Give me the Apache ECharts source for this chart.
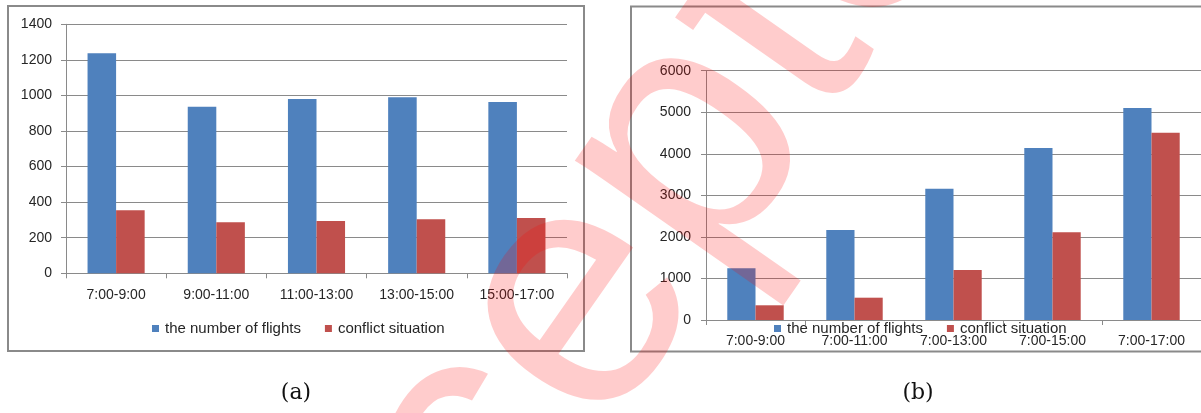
<!DOCTYPE html>
<html>
<head>
<meta charset="utf-8">
<script src="https://cdn.jsdelivr.net/npm/echarts@6/dist/echarts.min.js"></script>
<style>
html,body{margin:0;padding:0;background:#fff;}
#chart{width:1201px;height:413px;}
</style>
</head>
<body>
<div id="chart"></div>
<script>
// ---- data ----
const categoriesA = ['7:00-9:00', '9:00-11:00', '11:00-13:00', '13:00-15:00', '15:00-17:00'];
const flightsA = [1237, 937, 980, 990, 963];
const conflictsA = [354, 287, 294, 304, 311];
const yTicksA = [0, 200, 400, 600, 800, 1000, 1200, 1400];

const categoriesB = ['7:00-9:00', '7:00-11:00', '7:00-13:00', '7:00-15:00', '7:00-17:00'];
const flightsB = [1244, 2166, 3160, 4140, 5102];
const conflictsB = [354, 537, 1203, 2110, 4508];
const yTicksB = [0, 1000, 2000, 3000, 4000, 5000, 6000];

const seriesNames = ['the number of flights', 'conflict situation'];
const captions = ['(a)', '(b)'];
const watermark = 'Accepted';

// ---- styling ----
const BLUE = '#4F81BD', RED = '#C0504D';
const GRID_C = '#8a8a8a', TEXT_C = '#262626';
const FONT = '"Liberation Sans", Arial, sans-serif';

function xAxis(idx, cats, margin) {
  return {
    type: 'category', gridIndex: idx, data: cats,
    axisLine: {show: true, lineStyle: {color: GRID_C, width: 1}},
    axisTick: {show: true, length: 5, lineStyle: {color: GRID_C}},
    axisLabel: {color: TEXT_C, fontSize: 14, fontFamily: FONT, margin: margin, interval: 0},
    splitLine: {show: false}
  };
}
function yAxis(idx, ticks, margin) {
  return {
    type: 'value', gridIndex: idx,
    min: ticks[0], max: ticks[ticks.length - 1], interval: ticks[1] - ticks[0],
    axisLine: {show: true, lineStyle: {color: GRID_C, width: 1}},
    axisTick: {show: true, length: 5, lineStyle: {color: GRID_C}},
    axisLabel: {color: TEXT_C, fontSize: 14, fontFamily: FONT, margin: margin,
                formatter: function (v) { return String(v); }},
    splitLine: {show: true, lineStyle: {color: GRID_C, width: 1}}
  };
}
function bar(name, data, idx, color) {
  return {
    name: name, type: 'bar', xAxisIndex: idx, yAxisIndex: idx, data: data,
    barGap: '0%', barCategoryGap: '43%',
    itemStyle: {color: color}, silent: true, animation: false
  };
}
function legend(left, top) {
  return {
    left: left, top: top, orient: 'horizontal', padding: 0,
    itemWidth: 7, itemHeight: 7, itemGap: 24, icon: 'rect',
    data: seriesNames, selectedMode: false,
    textStyle: {color: TEXT_C, fontSize: 15, fontFamily: FONT, padding: [0, 0, 0, 1]}
  };
}

const chart = echarts.init(document.getElementById('chart'), null, {renderer: 'canvas'});
chart.setOption({
  animation: false,
  backgroundColor: '#fff',
  grid: [
    {left: 66, right: 1201 - 567, top: 24.3, bottom: 413 - 273.3},
    {left: 706, right: -5.5, top: 70.7, bottom: 413 - 320}
  ],
  xAxis: [xAxis(0, categoriesA, 15), xAxis(1, categoriesB, 14)],
  yAxis: [yAxis(0, yTicksA, 14), yAxis(1, yTicksB, 15)],
  legend: [legend(152, 321), legend(774, 321)],
  series: [
    bar(seriesNames[0], flightsA, 0, BLUE),
    bar(seriesNames[1], conflictsA, 0, RED),
    bar(seriesNames[0], flightsB, 1, BLUE),
    bar(seriesNames[1], conflictsB, 1, RED)
  ],
  graphic: [
    {type: 'rect', shape: {x: 8, y: 6, width: 576, height: 345}, style: {fill: 'none', stroke: GRID_C, lineWidth: 2}, z: 50, silent: true},
    {type: 'rect', shape: {x: 631, y: 6.5, width: 600, height: 345}, style: {fill: 'none', stroke: GRID_C, lineWidth: 2}, z: 50, silent: true},
    {type: 'text', x: 296, y: 393, style: {text: captions[0], font: '22px "DejaVu Serif", serif', fill: '#111', align: 'center', verticalAlign: 'middle'}, z: 50, silent: true},
    {type: 'text', x: 918, y: 393, style: {text: captions[1], font: '22px "DejaVu Serif", serif', fill: '#111', align: 'center', verticalAlign: 'middle'}, z: 50, silent: true},
    {type: 'text', x: 606, y: 268, rotation: 0.96, originX: 0, originY: 0,
     style: {text: watermark, font: 'normal 345px "Liberation Sans", Arial, sans-serif', fill: 'rgba(255,0,0,0.2)', align: 'center', verticalAlign: 'middle'},
     z: 100, silent: true}
  ]
});
</script>
</body>
</html>
